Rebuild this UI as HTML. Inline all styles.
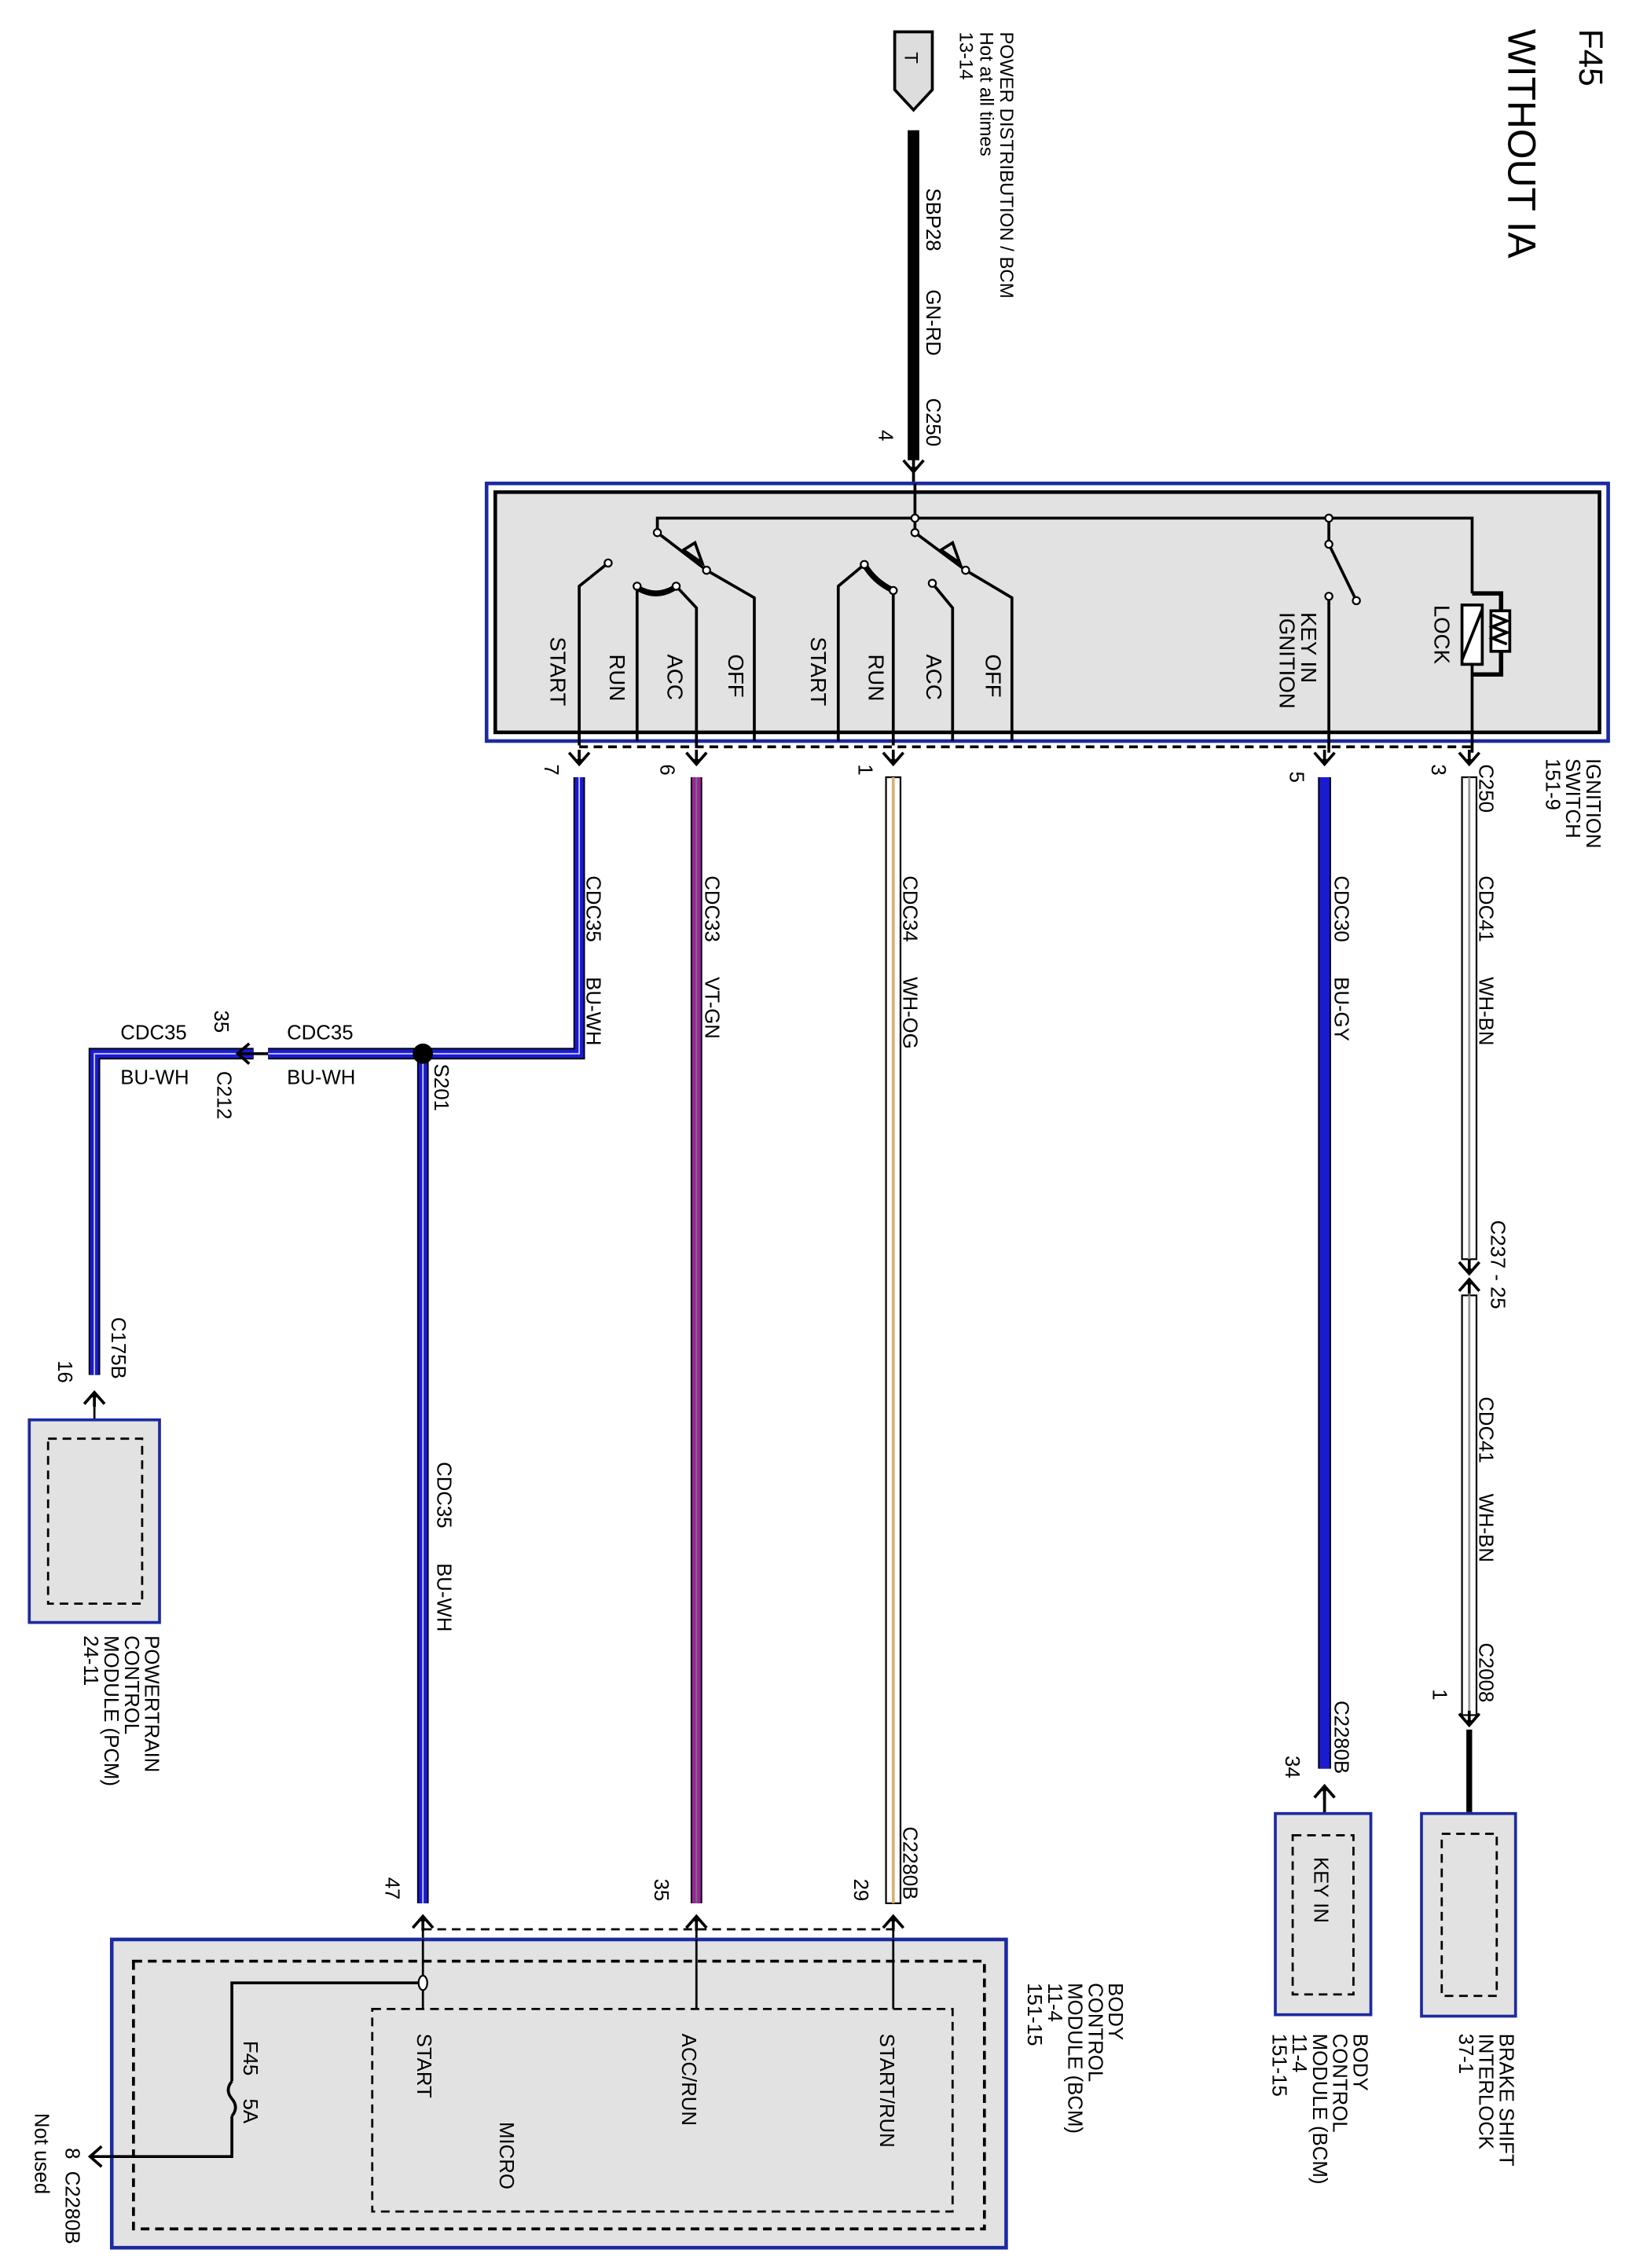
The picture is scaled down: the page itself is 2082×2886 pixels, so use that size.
<!DOCTYPE html>
<html><head><meta charset="utf-8"><style>
html,body{margin:0;padding:0;background:#fff}
svg{display:block}
text{font-family:"Liberation Sans",sans-serif;fill:#000}
</style></head><body>
<svg width="2082" height="2886" viewBox="0 0 1130 1567" xmlns="http://www.w3.org/2000/svg">
<defs>
<g id="pd"><path d="M-7,-8 L0,0 L7,-8 M0,0 L0,-10" stroke="#000" stroke-width="2" fill="none"/><circle cx="0" cy="-2" r="2" fill="#000"/></g>
<g id="pu"><path d="M-7,8 L0,0 L7,8 M0,0 L0,10" stroke="#000" stroke-width="2" fill="none"/><circle cx="0" cy="2" r="2" fill="#000"/></g>
</defs>

<!-- titles -->
<text transform="translate(1091,20) rotate(90)" font-size="23">F45</text>
<text transform="translate(1042,20) rotate(90)" font-size="27">WITHOUT IA</text>

<!-- power distribution -->
<path d="M618,22 L644,22 L644,62 L631,76 L618,62 Z" fill="#ddd" stroke="#000" stroke-width="2"/>
<text transform="translate(625,36) rotate(90)" font-size="13">T</text>
<text transform="translate(691,22) rotate(90)" font-size="13">POWER DISTRIBUTION / BCM</text>
<text transform="translate(677,22) rotate(90)" font-size="13">Hot at all times</text>
<text transform="translate(663,22) rotate(90)" font-size="13">13-14</text>
<line x1="631" y1="90" x2="631" y2="318" stroke="#000" stroke-width="8"/>
<use href="#pd" x="631" y="326"/>
<line x1="631" y1="326" x2="631" y2="358" stroke="#000" stroke-width="2"/>
<text transform="translate(640,130) rotate(90)" font-size="14">SBP28</text>
<text transform="translate(640,200) rotate(90)" font-size="14">GN-RD</text>
<text transform="translate(640,275) rotate(90)" font-size="14">C250</text>
<text transform="translate(607,297) rotate(90)" font-size="14">4</text>

<!-- ignition switch box -->
<rect x="336" y="334" width="775" height="178" fill="#fff" stroke="#1c2aa0" stroke-width="2.5"/>
<rect x="342" y="340" width="763" height="166" fill="#e2e2e2" stroke="#000" stroke-width="2.5"/>
<g stroke="#000" stroke-width="2" fill="none">
<polyline points="454,368 454,358 1017,358 1017,410"/>
<line x1="632" y1="334" x2="632" y2="368"/>
<!-- left switch -->
<line x1="454" y1="368" x2="488" y2="394"/>
<path d="M472,380 L480,375 L485,389 Z" />
<polyline points="420,389 400,405 400,515"/>
<line x1="440" y1="405" x2="440" y2="512"/>
<polyline points="467,405 481,420 481,515"/>
<path d="M440,406 Q453,414 466,406" stroke-width="4"/>
<polyline points="488,394 521,413 521,512"/>
<!-- middle switch -->
<line x1="632" y1="368" x2="667" y2="394"/>
<path d="M650,380 L658,375 L663,389 Z"/>
<polyline points="597,390 579,405 579,512"/>
<path d="M597,390 Q604,402 617,408" stroke-width="4"/>
<line x1="617" y1="408" x2="617" y2="515"/>
<polyline points="644,403 658,420 658,512"/>
<polyline points="667,394 699,413 699,512"/>
<!-- key in ignition -->
<line x1="918" y1="358" x2="918" y2="376"/>
<line x1="918" y1="376" x2="937" y2="415"/>
<line x1="918" y1="412" x2="918" y2="520"/>
<!-- lock -->
<rect x="1010" y="418" width="14" height="41" fill="#fff"/>
<line x1="1010" y1="456" x2="1024" y2="421"/>
<polyline points="1017,410 1037,410 1037,466 1017,466" stroke-width="3"/>
<rect x="1030" y="422" width="13" height="28" fill="#fff"/>
<polyline points="1031,425 1041,429 1031,433 1041,437 1031,441 1041,445"/>
<line x1="1017" y1="459" x2="1017" y2="520"/>
</g>
<g fill="#fff" stroke="#000" stroke-width="1.2">
<circle cx="454" cy="368" r="2.5"/><circle cx="420" cy="389" r="2.5"/><circle cx="440" cy="405" r="2.5"/><circle cx="467" cy="405" r="2.5"/><circle cx="488" cy="394" r="2.5"/>
<circle cx="632" cy="358" r="2.5"/><circle cx="632" cy="368" r="2.5"/><circle cx="597" cy="390" r="2.5"/><circle cx="617" cy="408" r="2.5"/><circle cx="644" cy="403" r="2.5"/><circle cx="667" cy="394" r="2.5"/>
<circle cx="918" cy="358" r="2.5"/><circle cx="918" cy="376" r="2.5"/><circle cx="937" cy="415" r="2.5"/><circle cx="918" cy="412" r="2.5"/>
</g>
<g font-size="15">
<text transform="translate(991,418) rotate(90)">LOCK</text>
<text transform="translate(899,423) rotate(90)">KEY IN</text>
<text transform="translate(884,423) rotate(90)">IGNITION</text>
<text transform="translate(380,440) rotate(90)">START</text>
<text transform="translate(421,452) rotate(90)">RUN</text>
<text transform="translate(461,452) rotate(90)">ACC</text>
<text transform="translate(503,452) rotate(90)">OFF</text>
<text transform="translate(560,440) rotate(90)">START</text>
<text transform="translate(600,452) rotate(90)">RUN</text>
<text transform="translate(640,452) rotate(90)">ACC</text>
<text transform="translate(681,452) rotate(90)">OFF</text>
</g>
<line x1="400" y1="516" x2="1017" y2="516" stroke="#000" stroke-width="2" stroke-dasharray="6,4"/>
<g font-size="14">
<text transform="translate(1096,524) rotate(90)">IGNITION</text>
<text transform="translate(1082,524) rotate(90)">SWITCH</text>
<text transform="translate(1068,524) rotate(90)">151-9</text>
<text transform="translate(1022,528) rotate(90)">C250</text>
<text transform="translate(989,528) rotate(90)">3</text>
<text transform="translate(891,533) rotate(90)">5</text>
<text transform="translate(593,528) rotate(90)">1</text>
<text transform="translate(456,528) rotate(90)">6</text>
<text transform="translate(376,528) rotate(90)">7</text>
</g>
<use href="#pd" x="1015" y="528"/><use href="#pd" x="915" y="528"/><use href="#pd" x="617" y="528"/><use href="#pd" x="481" y="528"/><use href="#pd" x="400" y="528"/>

<!-- WH-BN wire -->
<g>
<rect x="1010" y="537" width="10" height="333" fill="#fff" stroke="#000" stroke-width="1.2"/>
<line x1="1015" y1="537" x2="1015" y2="870" stroke="#999" stroke-width="1.5"/>
<use href="#pd" x="1015" y="880"/><use href="#pu" x="1015" y="884"/>
<rect x="1010" y="895" width="10" height="290" fill="#fff" stroke="#000" stroke-width="1.2"/>
<line x1="1015" y1="895" x2="1015" y2="1185" stroke="#999" stroke-width="1.5"/>
<use href="#pd" x="1015" y="1192"/>
<line x1="1015" y1="1195" x2="1015" y2="1252" stroke="#000" stroke-width="4"/>
</g>
<g font-size="14">
<text transform="translate(1022,605) rotate(90)">CDC41</text>
<text transform="translate(1022,675) rotate(90)">WH-BN</text>
<text transform="translate(1030,843) rotate(90)">C237  -  25</text>
<text transform="translate(1022,965) rotate(90)">CDC41</text>
<text transform="translate(1022,1032) rotate(90)">WH-BN</text>
<text transform="translate(1022,1135) rotate(90)">C2008</text>
<text transform="translate(990,1167) rotate(90)">1</text>
</g>
<!-- brake shift interlock -->
<rect x="982" y="1253" width="65" height="140" fill="#e2e2e2" stroke="#1c2aa0" stroke-width="2"/>
<rect x="996" y="1267" width="38" height="112" fill="none" stroke="#000" stroke-width="1.5" stroke-dasharray="6,4"/>
<g font-size="14">
<text transform="translate(1036,1405) rotate(90)">BRAKE SHIFT</text>
<text transform="translate(1022,1405) rotate(90)">INTERLOCK</text>
<text transform="translate(1008,1405) rotate(90)">37-1</text>
</g>

<!-- BU-GY -->
<line x1="915" y1="537" x2="915" y2="1222" stroke="#000" stroke-width="9"/>
<line x1="915" y1="537" x2="915" y2="1222" stroke="#1a1ad0" stroke-width="7"/>
<use href="#pu" x="915" y="1234"/>
<line x1="915" y1="1236" x2="915" y2="1268" stroke="#000" stroke-width="2"/>
<g font-size="14">
<text transform="translate(922,605) rotate(90)">CDC30</text>
<text transform="translate(922,675) rotate(90)">BU-GY</text>
<text transform="translate(922,1175) rotate(90)">C2280B</text>
<text transform="translate(888,1213) rotate(90)">34</text>
</g>
<rect x="881" y="1253" width="66" height="139" fill="#e2e2e2" stroke="#1c2aa0" stroke-width="2"/>
<rect x="893" y="1268" width="42" height="110" fill="none" stroke="#000" stroke-width="1.5" stroke-dasharray="6,4"/>
<text transform="translate(908,1283) rotate(90)" font-size="14">KEY IN</text>
<g font-size="14">
<text transform="translate(935,1405) rotate(90)">BODY</text>
<text transform="translate(921,1405) rotate(90)">CONTROL</text>
<text transform="translate(907,1405) rotate(90)">MODULE (BCM)</text>
<text transform="translate(893,1405) rotate(90)">11-4</text>
<text transform="translate(879,1405) rotate(90)">151-15</text>
</g>

<!-- WH-OG -->
<rect x="612" y="537" width="10" height="778" fill="#fff" stroke="#000" stroke-width="1.2"/>
<line x1="617" y1="537" x2="617" y2="1315" stroke="#d8b070" stroke-width="2"/>
<use href="#pu" x="617" y="1324"/>
<line x1="617" y1="1326" x2="617" y2="1390" stroke="#000" stroke-width="1.5"/>
<g font-size="14">
<text transform="translate(624,605) rotate(90)">CDC34</text>
<text transform="translate(624,675) rotate(90)">WH-OG</text>
<text transform="translate(624,1262) rotate(90)">C2280B</text>
<text transform="translate(590,1298) rotate(90)">29</text>
</g>

<!-- VT-GN -->
<line x1="481" y1="537" x2="481" y2="1315" stroke="#000" stroke-width="8"/>
<line x1="481" y1="537" x2="481" y2="1315" stroke="#a020a0" stroke-width="6"/>
<line x1="481" y1="537" x2="481" y2="1315" stroke="#5a8a5a" stroke-width="1"/>
<use href="#pu" x="481" y="1324"/>
<line x1="481" y1="1326" x2="481" y2="1390" stroke="#000" stroke-width="1.5"/>
<g font-size="14">
<text transform="translate(487,605) rotate(90)">CDC33</text>
<text transform="translate(487,675) rotate(90)">VT-GN</text>
<text transform="translate(452,1298) rotate(90)">35</text>
</g>

<!-- BU-WH -->
<g fill="none" stroke-linejoin="miter">
<polyline points="400,537 400,728 292,728 292,1315" stroke="#000" stroke-width="8"/>
<polyline points="400,537 400,728 292,728 292,1315" stroke="#1a1ad0" stroke-width="6"/>
<polyline points="400,537 400,728 292,728 292,1315" stroke="#c8c8ff" stroke-width="1"/>
<polyline points="175,728 65,728 65,950" stroke="#000" stroke-width="8"/>
<polyline points="175,728 65,728 65,950" stroke="#1a1ad0" stroke-width="6"/>
<polyline points="175,728 65,728 65,950" stroke="#c8c8ff" stroke-width="1"/>
<line x1="292" y1="728" x2="185" y2="728" stroke="#000" stroke-width="8"/>
<line x1="292" y1="728" x2="185" y2="728" stroke="#1a1ad0" stroke-width="6"/>
<line x1="292" y1="728" x2="185" y2="728" stroke="#c8c8ff" stroke-width="1"/>
</g>
<path d="M172,721 L164,728 L172,735 M164,728 L185,728" stroke="#000" stroke-width="2" fill="none"/>
<circle cx="292" cy="728" r="7" fill="#000"/>
<use href="#pu" x="65" y="962"/>
<line x1="65" y1="964" x2="65" y2="995" stroke="#000" stroke-width="1.5"/>
<use href="#pu" x="292" y="1324"/>
<line x1="292" y1="1326" x2="292" y2="1390" stroke="#000" stroke-width="1.5"/>
<g font-size="14">
<text transform="translate(405,605) rotate(90)">CDC35</text>
<text transform="translate(405,675) rotate(90)">BU-WH</text>
<text transform="translate(300,735) rotate(90)">S201</text>
<text x="198" y="718">CDC35</text>
<text x="198" y="749">BU-WH</text>
<text x="83" y="718">CDC35</text>
<text x="83" y="749">BU-WH</text>
<text transform="translate(148,698) rotate(90)">35</text>
<text transform="translate(150,740) rotate(90)">C212</text>
<text transform="translate(77,910) rotate(90)">C175B</text>
<text transform="translate(40,940) rotate(90)">16</text>
<text transform="translate(302,1010) rotate(90)">CDC35</text>
<text transform="translate(302,1080) rotate(90)">BU-WH</text>
<text transform="translate(266,1297) rotate(90)">47</text>
</g>

<!-- PCM -->
<rect x="20" y="981" width="90" height="140" fill="#e2e2e2" stroke="#1c2aa0" stroke-width="2"/>
<rect x="33" y="994" width="65" height="114" fill="none" stroke="#000" stroke-width="1.5" stroke-dasharray="6,4"/>
<g font-size="14">
<text transform="translate(100,1130) rotate(90)">POWERTRAIN</text>
<text transform="translate(86,1130) rotate(90)">CONTROL</text>
<text transform="translate(72,1130) rotate(90)">MODULE (PCM)</text>
<text transform="translate(58,1130) rotate(90)">24-11</text>
</g>

<!-- BCM -->
<line x1="292" y1="1333" x2="617" y2="1333" stroke="#000" stroke-width="1.5" stroke-dasharray="6,4"/>
<rect x="77" y="1340" width="618" height="213" fill="#e2e2e2" stroke="#1c2aa0" stroke-width="2.5"/>
<rect x="92" y="1355" width="588" height="185" fill="none" stroke="#000" stroke-width="2" stroke-dasharray="6,4"/>
<rect x="257" y="1388" width="401" height="140" fill="none" stroke="#000" stroke-width="1.5" stroke-dasharray="6,4"/>
<g stroke="#000" stroke-width="1.5" fill="none">
<line x1="292" y1="1340" x2="292" y2="1388"/>
<line x1="481" y1="1340" x2="481" y2="1388"/>
<line x1="617" y1="1340" x2="617" y2="1388"/>
<polyline points="292,1370 160,1370 160,1438" stroke-width="2"/>
<path d="M160,1438 q-5,6 0,12 q5,6 0,12" stroke-width="2"/>
<polyline points="160,1462 160,1490 62,1490" stroke-width="2"/>
<path d="M70,1483 L62,1490 L70,1497" stroke-width="2"/>
</g>
<ellipse cx="292" cy="1370" rx="3" ry="5" fill="#fff" stroke="#000" stroke-width="1.2"/>
<g font-size="14">
<text transform="translate(168,1410) rotate(90)">F45</text>
<text transform="translate(168,1450) rotate(90)">5A</text>
<text transform="translate(288,1405) rotate(90)">START</text>
<text transform="translate(471,1405) rotate(90)">ACC/RUN</text>
<text transform="translate(608,1405) rotate(90)">START/RUN</text>
<text transform="translate(345,1466) rotate(90)">MICRO</text>
<text transform="translate(766,1370) rotate(90)">BODY</text>
<text transform="translate(752,1370) rotate(90)">CONTROL</text>
<text transform="translate(738,1370) rotate(90)">MODULE (BCM)</text>
<text transform="translate(724,1370) rotate(90)">11-4</text>
<text transform="translate(710,1370) rotate(90)">151-15</text>
<text transform="translate(45,1484) rotate(90)">8</text>
<text transform="translate(45,1500) rotate(90)">C2280B</text>
<text transform="translate(24,1460) rotate(90)">Not used</text>
</g>
</svg>
</body></html>
